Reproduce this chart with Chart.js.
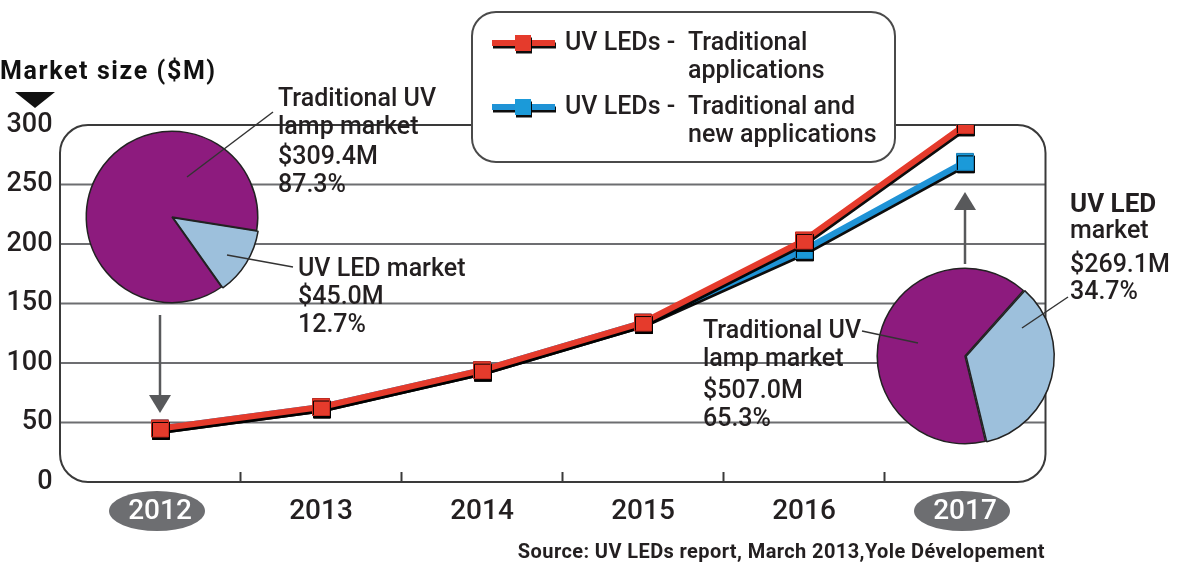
<!DOCTYPE html>
<html>
<head>
<meta charset="utf-8">
<script src="https://cdn.jsdelivr.net/npm/chart.js@4/dist/chart.umd.min.js"></script>
<style>
  html, body { margin: 0; padding: 0; background: #fff; }
  #wrap { position: relative; width: 1182px; height: 569px; }
  #wrap canvas { position: absolute; left: 0; top: 0; pointer-events: none; }
</style>
</head>
<body>
<div id="wrap">
  <canvas id="main" width="1182" height="569"></canvas>
  <canvas id="pie2012" width="1182" height="569"></canvas>
  <canvas id="pie2017" width="1182" height="569"></canvas>
</div>
<script>
// données du graphique
const years = ["2012", "2013", "2014", "2015", "2016", "2017"]
const traditional = [45, 63, 94, 134, 203, 300]
const traditionalAndNew = [45, 63, 94, 134, 195, 269]
const yMin = 0
const yMax = 300
const yStep = 50
const seriesNames = ["UV LEDs - Traditional applications", "UV LEDs - Traditional and new applications"]
const legendLines = [["UV LEDs -", "Traditional", "applications"], ["UV LEDs -", "Traditional and", "new applications"]]
const pieSlices = ["UV LED market", "Traditional UV lamp market"]
const pie2012 = [45.0, 309.4]
const pie2017 = [269.1, 507.0]
const pie2012Share = ["12.7%", "87.3%"]
const pie2017Share = ["34.7%", "65.3%"]

const FONT = 'Roboto, "Liberation Sans", sans-serif'
const INK = "#231f20"
const RED = "#e53b2c"
const BLUE = "#1f93d6"
const PURPLE = "#8d1b7e"
const LIGHT = "#9dc0dc"
const GRID = "#6d6e71"

function text(ctx, str, x, y, size, opts = {}) {
    ctx.save()
    ctx.font = (opts.weight || "500") + " " + size + "px " + FONT
    ctx.fillStyle = opts.color || INK
    ctx.textAlign = opts.align || "left"
    ctx.textBaseline = "middle"
    if (opts.spacing) ctx.letterSpacing = opts.spacing
    ctx.fillText(str, x, y)
    ctx.restore()
}

function line(ctx, x1, y1, x2, y2, color, width) {
    ctx.save()
    ctx.strokeStyle = color
    ctx.lineWidth = width
    ctx.beginPath()
    ctx.moveTo(x1, y1)
    ctx.lineTo(x2, y2)
    ctx.stroke()
    ctx.restore()
}

function arrow(ctx, x, yFrom, yTip) {
    const dir = yTip > yFrom ? 1 : -1
    line(ctx, x, yFrom, x, yTip - dir * 16, "#58595b", 2.5)
    ctx.save()
    ctx.fillStyle = "#58595b"
    ctx.beginPath()
    ctx.moveTo(x - 11, yTip - dir * 18)
    ctx.lineTo(x + 11, yTip - dir * 18)
    ctx.lineTo(x, yTip)
    ctx.closePath()
    ctx.fill()
    ctx.restore()
}

function withShadow(ctx) {
    ctx.shadowColor = "rgba(0,0,0,0.95)"
    ctx.shadowOffsetX = 1
    ctx.shadowOffsetY = 2.5
    ctx.shadowBlur = 0
}

// ellipses grises derrière 2012 et 2017, titre d'axe, source
const ellipsePlugin = {
    id: "ellipses",
    beforeDraw(chart) {
        const ctx = chart.ctx
        const x = chart.scales.x
        ctx.save()
        ctx.fillStyle = GRID
        for (const i of [0, years.length - 1]) {
            ctx.beginPath()
            ctx.ellipse(x.getPixelForValue(i) - 3, 511, 48, 20, 0, 0, Math.PI * 2)
            ctx.fill()
        }
        ctx.restore()
        text(ctx, "Market size ($M)", 0, 73, 25, { weight: "bold", color: "#111", spacing: "1.6px" })
        ctx.save()
        ctx.fillStyle = "#111"
        ctx.beginPath()
        ctx.moveTo(15, 92)
        ctx.lineTo(55, 92)
        ctx.lineTo(35, 108)
        ctx.closePath()
        ctx.fill()
        ctx.restore()
        text(ctx, "Source: UV LEDs report, March 2013,Yole Dévelopement", 1045, 553, 20, { weight: "bold", align: "right", spacing: "0.4px" })
    }
}

// cadre arrondi, grille, flèches et légende
const framePlugin = {
    id: "frame",
    beforeDatasetsDraw(chart) {
        const ctx = chart.ctx
        const x = chart.scales.x
        const y = chart.scales.y
        const left = chart.chartArea.left - 19.5
        const right = chart.chartArea.right
        const top = y.getPixelForValue(yMax)
        const bottom = y.getPixelForValue(yMin)

        for (let v = yMin + yStep; v < yMax; v += yStep) {
            const py = y.getPixelForValue(v)
            line(ctx, left, py, right, py, GRID, 2.2)
        }
        ctx.save()
        ctx.strokeStyle = "#3a3a3a"
        ctx.lineWidth = 2
        ctx.beginPath()
        ctx.roundRect(left, top, right - left, bottom - top, 28)
        ctx.stroke()
        ctx.restore()
        for (let i = 0; i < years.length - 1; i++) {
            const px = (x.getPixelForValue(i) + x.getPixelForValue(i + 1)) / 2
            line(ctx, px, bottom - 10, px, bottom, "#3a3a3a", 2)
        }

        arrow(ctx, x.getPixelForValue(0), 315, 413)
        arrow(ctx, x.getPixelForValue(years.length - 1), 264, 192)

        // légende
        ctx.save()
        ctx.fillStyle = "#fff"
        ctx.strokeStyle = "#4a4a4a"
        ctx.lineWidth = 2
        ctx.beginPath()
        ctx.roundRect(472, 12, 423, 150, 24)
        ctx.fill()
        ctx.stroke()
        ctx.restore()
        chart.data.datasets.forEach((ds, i) => {
            const ly = 43 + i * 64
            ctx.save()
            withShadow(ctx)
            ctx.strokeStyle = ds.borderColor
            ctx.lineWidth = 6
            ctx.beginPath()
            ctx.moveTo(492, ly)
            ctx.lineTo(555, ly)
            ctx.stroke()
            ctx.fillStyle = ds.pointBackgroundColor
            ctx.fillRect(515, ly - 8, 16, 16)
            ctx.restore()
            const parts = legendLines[i]
            text(ctx, parts[0], 565, ly + 1, 25)
            text(ctx, parts[1], 688, ly + 1, 25)
            text(ctx, parts[2], 688, ly + 29, 25)
        })
    }
}

const shadowPlugin = {
    id: "shadow",
    beforeDatasetDraw(chart) {
        chart.ctx.save()
        withShadow(chart.ctx)
    },
    afterDatasetDraw(chart) {
        chart.ctx.restore()
    }
}

new Chart(document.getElementById("main"), {
    type: "line",
    data: {
        labels: years,
        datasets: [{
            label: seriesNames[0],
            data: traditional,
            borderColor: RED,
            pointBackgroundColor: RED,
            pointBorderColor: "#c42a1f",
            borderWidth: 6,
            pointStyle: "rect",
            pointRadius: 12,
            pointBorderWidth: 1,
            tension: 0,
        }, {
            label: seriesNames[1],
            data: traditionalAndNew,
            borderColor: BLUE,
            pointBackgroundColor: "#1b9ad9",
            pointBorderColor: "#137bb5",
            borderWidth: 6,
            pointStyle: "rect",
            pointRadius: 12,
            pointBorderWidth: 1,
            tension: 0,
        }],
    },
    options: {
        responsive: false,
        animation: false,
        layout: { padding: { top: 125, right: 136.5, left: 0, bottom: 0 } },
        scales: {
            x: {
                offset: true,
                grid: { display: false, drawTicks: false },
                border: { display: false },
                ticks: {
                    font: { family: FONT, size: 28, weight: "500" },
                    color: c => (c.index === 0 || c.index === years.length - 1) ? "#fff" : INK,
                    padding: 13,
                },
                afterFit: s => { s.height = 87 },
            },
            y: {
                min: yMin,
                max: yMax,
                grid: { display: false, drawTicks: false },
                border: { display: false },
                ticks: { stepSize: yStep, font: { family: FONT, size: 27, weight: "500" }, color: INK, padding: 27 },
                afterFit: s => { s.width = 79.5 },
            },
        },
        plugins: { legend: { display: false }, tooltip: { enabled: false } },
    },
    plugins: [ellipsePlugin, framePlugin, shadowPlugin],
})

// camemberts
function makePie(id, values, rotation, cx, cy, size, notes) {
    const notesPlugin = {
        id: "notes",
        afterDraw(chart) {
            const ctx = chart.ctx
            notes.leaders.forEach(l => line(ctx, l[0], l[1], l[2], l[3], "#333", 1.5))
            notes.texts.forEach(t => text(ctx, t[0], t[1], t[2], t[3] || 25, { weight: t[4] }))
        }
    }
    return new Chart(document.getElementById(id), {
        type: "pie",
        data: {
            labels: pieSlices,
            datasets: [{
                data: values,
                backgroundColor: [LIGHT, PURPLE],
                borderColor: "#222",
                borderWidth: 1.5,
                offset: [5, 0],
                hoverOffset: 0,
            }],
        },
        options: {
            responsive: false,
            animation: false,
            rotation: rotation,
            layout: { padding: { left: cx - size / 2, top: cy - size / 2, right: 1182 - cx - size / 2, bottom: 569 - cy - size / 2 } },
            plugins: { legend: { display: false }, tooltip: { enabled: false } },
        },
        plugins: [notesPlugin],
    })
}

makePie("pie2012", pie2012, 99, 172, 217, 178, {
    leaders: [[187, 177, 273, 112], [227, 255, 293, 267]],
    texts: [
        ["Traditional UV", 278, 100], ["lamp market", 278, 128],
        ["$" + pie2012[1].toFixed(1) + "M", 278, 158], [pie2012Share[1], 278, 186],
        ["UV LED market", 298, 270], ["$" + pie2012[0].toFixed(1) + "M", 298, 298], [pie2012Share[0], 298, 326],
    ],
})

makePie("pie2017", pie2017, 41.7, 965, 356, 182, {
    leaders: [[862, 331, 918, 343], [1022, 328, 1068, 297]],
    texts: [
        ["Traditional UV", 703, 332], ["lamp market", 703, 360],
        ["$" + pie2017[1].toFixed(1) + "M", 703, 392], [pie2017Share[1], 703, 420],
        ["UV LED", 1070, 205, 26, "bold"], ["market", 1070, 232, 25],
        ["$" + pie2017[0].toFixed(1) + "M", 1070, 266], [pie2017Share[0], 1070, 293],
    ],
})
</script>
</body>
</html>
